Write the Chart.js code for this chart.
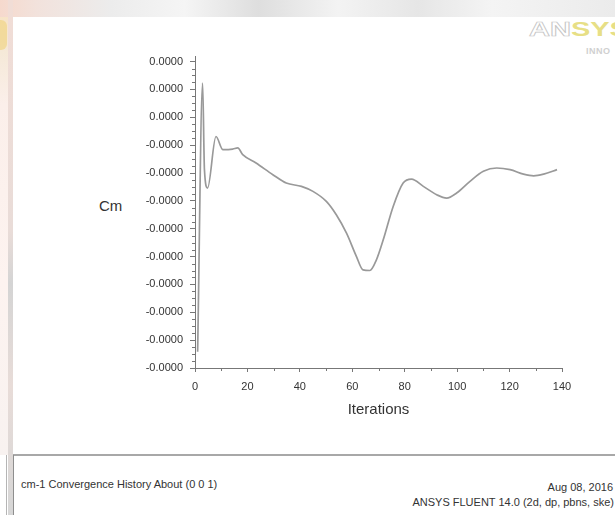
<!DOCTYPE html>
<html>
<head>
<meta charset="utf-8">
<script src="https://cdn.jsdelivr.net/npm/chart.js@4.4.1/dist/chart.umd.min.js"></script>
<style>
  html, body { margin:0; padding:0; background:#fff; }
  body { width:615px; height:515px; position:relative; overflow:hidden; font-family:"Liberation Sans", Arial, sans-serif; }
  .abs { position:absolute; }
  #topband { left:0; top:0; width:615px; height:17px;
    background: linear-gradient(90deg, #f6d9cd 0%, #f2e2dc 6%, #ececec 18%, #f5f5f5 30%, #dedede 42%, #f3f3f3 55%, #e6e6e6 68%, #f4f4f4 80%, #ebebeb 100%); }
  #leftband { left:0; top:17px; width:8px; height:438px;
    background: linear-gradient(180deg, #f7e4c8 0%, #f5e9d8 8%, #fbefea 20%, #fdf3f0 60%, #f8f2f0 100%); }
  #blob { left:0; top:20px; width:7px; height:30px; background:#f0d27a; opacity:0.6; border-radius:0 6px 6px 0; }
  #bar { left:8px; top:0; width:5px; height:515px; background: linear-gradient(180deg,#f1ddd6 0%, #e9dcd8 45%, #d4d4d4 55%, #e8dcd8 75%, #d6d6d6 100%); }
  #footline { left:13px; top:454px; width:602px; height:2px; background:#a8a8a8; }
  #footleft1 { left:13px; top:455px; width:1px; height:60px; background:#8e8e8e; }
  #footleft2 { left:6px; top:455px; width:1px; height:60px; background:#b5b5b5; }
  #ftext { left:21px; top:478px; font-size:11px; color:#333; white-space:nowrap; }
  #fdate { right:2px; top:481px; font-size:11px; color:#333; white-space:nowrap; text-align:right; }
  #fver { right:1px; top:496px; font-size:11px; color:#333; white-space:nowrap; text-align:right; }
  #cm { left:99px; top:197px; font-size:15px; color:#333; }
  #logo { left:529px; top:18px; font-size:20px; font-weight:bold; white-space:nowrap; letter-spacing:0px;
          transform-origin:left top; transform:scaleX(1.45); }
  #logo .an { color:transparent; -webkit-text-stroke:0.7px #c4c4c4; }
  #logo .sys { color:#e7df86; }
  #logosub { left:586px; top:46px; font-size:9px; font-weight:bold; color:#d0d0d0; white-space:nowrap; letter-spacing:0.5px; }
  #chartwrap { left:0; top:0; width:615px; height:515px; }
</style>
</head>
<body>
<div id="topband" class="abs"></div>
<div id="leftband" class="abs"></div>
<div id="blob" class="abs"></div>
<div id="bar" class="abs"></div>
<div id="footline" class="abs"></div>
<div id="footleft1" class="abs"></div>
<div id="footleft2" class="abs"></div>
<div id="logo" class="abs"><span class="an">AN</span><span class="sys">SYS</span></div>
<div id="logosub" class="abs">INNO</div>
<div id="cm" class="abs">Cm</div>
<div id="ftext" class="abs">cm-1 Convergence History About (0 0 1)</div>
<div id="fdate" class="abs">Aug 08, 2016</div>
<div id="fver" class="abs">ANSYS FLUENT 14.0 (2d, dp, pbns, ske)</div>
<div id="chartwrap" class="abs"><canvas id="c" width="615" height="515"></canvas></div>
<script>
// ---- data ----
const iterations = [1, 2.9, 3.6, 4.8, 8, 10.6, 14.4, 16.3, 18.2, 23.3, 29.7, 34.8, 40.6, 45, 50.1, 53.9, 57.8, 61.6, 64.1, 66.7, 69.2, 71.8, 75.6, 79.4, 82.6, 87.1, 92.2, 96, 99.8, 104.9, 110, 115.1, 120.2, 125.3, 129.2, 133, 138.1];
const cmValues   = [-8.42, 1.23, -1.88, -2.54, -0.69, -1.16, -1.14, -1.10, -1.34, -1.64, -2.06, -2.36, -2.48, -2.66, -3.02, -3.50, -4.16, -5.00, -5.48, -5.50, -5.12, -4.40, -3.20, -2.36, -2.22, -2.48, -2.78, -2.90, -2.72, -2.30, -1.94, -1.82, -1.88, -2.04, -2.10, -2.04, -1.88];
const yTickValues = [2, 1, 0, -1, -2, -3, -4, -5, -6, -7, -8, -9];
const yTickLabels = ['0.0000', '0.0000', '0.0000', '-0.0000', '-0.0000', '-0.0000', '-0.0000', '-0.0000', '-0.0000', '-0.0000', '-0.0000', '-0.0000'];
const xTickValues = [0, 20, 40, 60, 80, 100, 120, 140];
const xMinorValues = [10, 30, 50, 70, 90, 110, 130];
const xTitle = 'Iterations';

const points = iterations.map((it, i) => ({ x: it, y: cmValues[i] }));

const minorTicks = {
  id: 'minorTicks',
  afterDraw(chart) {
    const ctx = chart.ctx;
    const xs = chart.scales.x, ys = chart.scales.y;
    ctx.save();
    ctx.strokeStyle = '#777';
    ctx.lineWidth = 1;
    ctx.beginPath();
    const yMin = yTickValues[yTickValues.length - 1], yMax = yTickValues[0];
    for (let v = yMin; v < yMax; v += 0.25) {
      if (Math.abs(v - Math.round(v)) < 1e-9) continue;
      const py = Math.round(ys.getPixelForValue(v)) + 0.5;
      ctx.moveTo(ys.right - 3, py); ctx.lineTo(ys.right, py);
    }
    xMinorValues.forEach(v => {
      const px = Math.round(xs.getPixelForValue(v)) + 0.5;
      ctx.moveTo(px, xs.top); ctx.lineTo(px, xs.top + 3);
    });
    ctx.stroke();
    ctx.restore();
  }
};

const tickFont = { family: '"Liberation Sans", Arial, sans-serif', size: 11 };

new Chart(document.getElementById('c'), {
  type: 'line',
  data: {
    datasets: [{
      data: points,
      borderColor: '#999999',
      borderWidth: 1.7,
      pointRadius: 0,
      fill: false,
      cubicInterpolationMode: 'monotone'
    }]
  },
  options: {
    responsive: false,
    animation: false,
    events: [],
    layout: { padding: { left: 0, top: 56, right: 53, bottom: 80 } },
    plugins: { legend: { display: false }, tooltip: { enabled: false }, title: { display: false } },
    scales: {
      x: {
        type: 'linear',
        min: 0, max: 140,
        afterBuildTicks(scale) { scale.ticks = xTickValues.map(v => ({ value: v })); },
        afterFit(scale) { scale.height = 67; },
        ticks: { font: tickFont, color: '#333', padding: 8, maxRotation: 0, autoSkip: false },
        grid: { drawOnChartArea: false, drawTicks: true, tickLength: 4, tickColor: '#777' },
        border: { display: true, color: '#777', width: 1 },
        title: { display: true, text: xTitle, color: '#333',
                 font: { family: '"Liberation Sans", Arial, sans-serif', size: 15 },
                 padding: { top: 0, bottom: 16 } }
      },
      y: {
        type: 'linear',
        min: -9, max: 2.2,
        afterBuildTicks(scale) { scale.ticks = yTickValues.slice().reverse().map(v => ({ value: v })); },
        afterFit(scale) { scale.width = 195; },
        ticks: {
          font: tickFont, color: '#333', padding: 7, autoSkip: false,
          callback(value) { const i = yTickValues.indexOf(value); return i >= 0 ? yTickLabels[i] : ''; }
        },
        grid: { drawOnChartArea: false, drawTicks: true, tickLength: 5, tickColor: '#777' },
        border: { display: true, color: '#777', width: 1 }
      }
    }
  },
  plugins: [minorTicks]
});
</script>
</body>
</html>
